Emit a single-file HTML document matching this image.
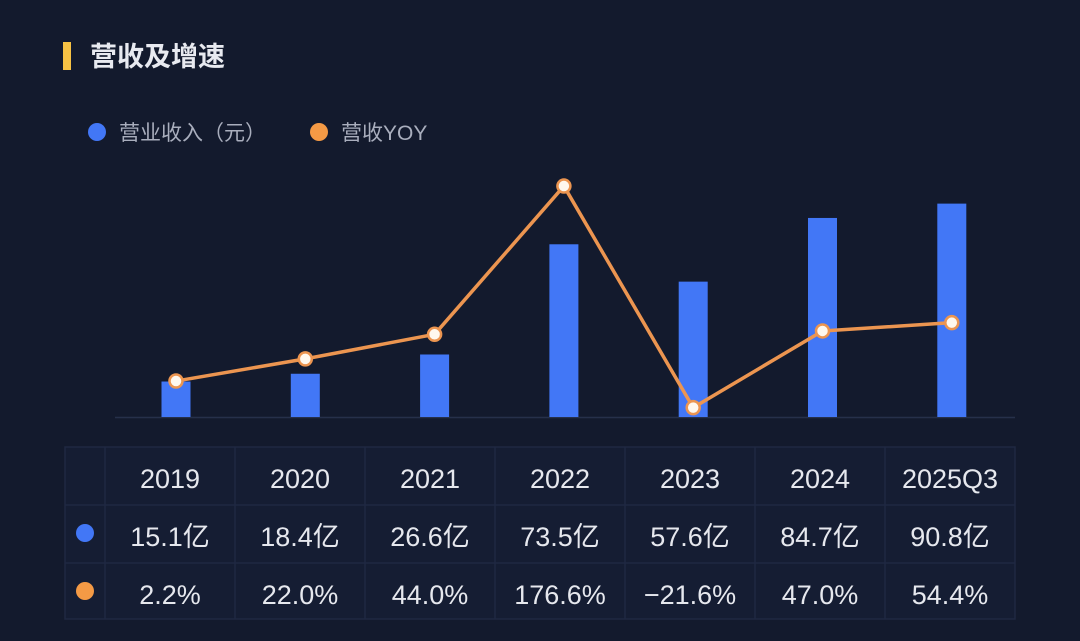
<!DOCTYPE html>
<html><head><meta charset="utf-8"><style>
body{margin:0;background:#131a2d;width:1080px;height:641px;overflow:hidden;font-family:"Liberation Sans","Noto Sans CJK SC",sans-serif;}
svg{display:block}
</style></head><body>
<svg id="c" width="1080" height="641">
<rect x="0" y="0" width="1080" height="641" fill="#131a2d"/>
<rect x="63" y="42" width="8" height="28" fill="#f7c244"/>
<text x="90" y="66" font-size="27" font-weight="bold" fill="#e8eaf0">营收及增速</text>
<g>
<circle cx="97" cy="132" r="9" fill="#4277f6"/>
<text x="119" y="140" font-size="21" fill="#a9aebd">营业收入（元）</text>
<circle cx="319" cy="132" r="9" fill="#f49a45"/>
<text x="341" y="140" font-size="21" fill="#a9aebd">营收YOY</text>
</g>
<line x1="115" y1="417.5" x2="1015" y2="417.5" stroke="#26304a" stroke-width="1.5"/>
<g id="bars"></g><g id="line"></g><g id="table"></g>
</svg>
<script>
const categories=["2019","2020","2021","2022","2023","2024","2025Q3"];
const revenue=[15.1,18.4,26.6,73.5,57.6,84.7,90.8];
const yoy=[2.2,22.0,44.0,176.6,-21.6,47.0,54.4];
const revenueLabels=["15.1亿","18.4亿","26.6亿","73.5亿","57.6亿","84.7亿","90.8亿"];
const yoyLabels=["2.2%","22.0%","44.0%","176.6%","−21.6%","47.0%","54.4%"];
const NS="http://www.w3.org/2000/svg";
function xC(i){return 176+i*129.3;}
function yBar(v){return 417-v*2.35;}
function yLine(v){return 383.5-v*1.118;}
function mk(tag,attrs,parent){const e=document.createElementNS(NS,tag);for(const k in attrs)e.setAttribute(k,attrs[k]);parent.appendChild(e);return e;}
const bars=document.getElementById('bars');
revenue.forEach((v,i)=>{const r=mk('rect',{x:xC(i)-14.5,y:yBar(v),width:29,height:417-yBar(v),fill:'#4277f6'},bars);

});
const lg=document.getElementById('line');
const pts=yoy.map((v,i)=>xC(i)+','+yLine(v)).join(' ');
const pl=mk('polyline',{points:pts,fill:'none',stroke:'#ec9550','stroke-width':3.5,'stroke-linejoin':'round'},lg);


yoy.forEach((v,i)=>{const c=mk('circle',{cx:xC(i),cy:yLine(v),r:6.5,fill:'#fff8ee',stroke:'#ec9550','stroke-width':2.5},lg);

});
const tb=document.getElementById('table');
const bg=mk('rect',{x:65,y:447,width:950,height:172,fill:'#151d33',stroke:'#1f2842','stroke-width':1.5},tb);


[505,563].forEach(y=>{const l=mk('line',{x1:65,y1:y,x2:1015,y2:y,stroke:'#1f2842','stroke-width':1.5},tb);

});
for(let i=0;i<7;i++){const x=105+i*130;const l=mk('line',{x1:x,y1:447,x2:x,y2:619,stroke:'#1f2842','stroke-width':1.5},tb);

}
const d1=mk('circle',{cx:85,cy:533,r:9,fill:'#4277f6'},tb);


const d2=mk('circle',{cx:85,cy:591,r:9,fill:'#f49a45'},tb);


categories.forEach((c,i)=>{const cx=170+i*130;
const rows=[[c,488,'table-header-'],[revenueLabels[i],546,'table-revenue-'],[yoyLabels[i],604,'table-yoy-']];
rows.forEach(r=>{const t=mk('text',{x:cx,y:r[1],'font-size':27,fill:'#e6e8ee','text-anchor':'middle'},tb);t.textContent=r[0];

});});
</script>
</body></html>
